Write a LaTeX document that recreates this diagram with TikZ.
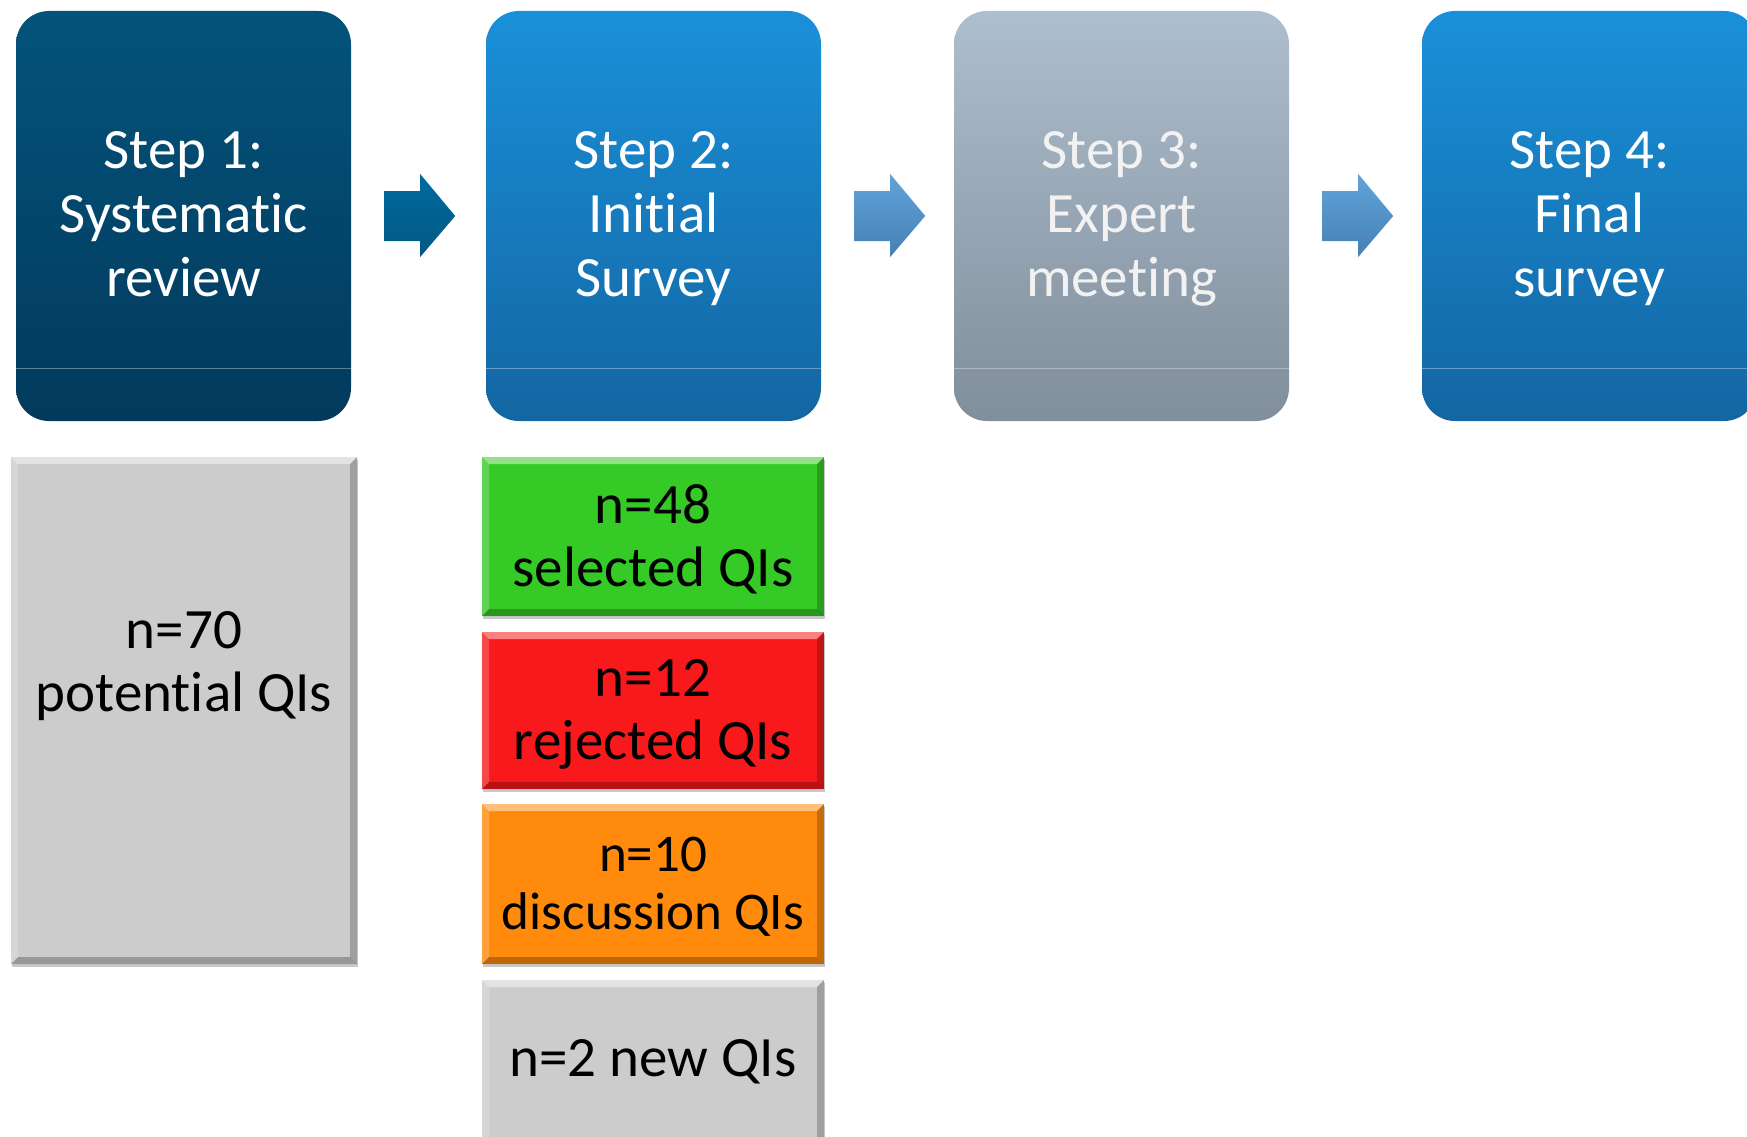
\documentclass[tikz,border=0pt]{standalone}
\usepackage{fontspec}
\setmainfont{Carlito}[Ligatures={NoCommon,NoContextual}]
\usetikzlibrary{shadows,calc}
\definecolor{sAtop}{HTML}{04537B}
\definecolor{sAbot}{HTML}{023A5C}
\definecolor{sBtop}{HTML}{1A90DA}
\definecolor{sBbot}{HTML}{1366A2}
\definecolor{sCtop}{HTML}{ADBECE}
\definecolor{sCbot}{HTML}{818E9B}
\definecolor{aAtop}{HTML}{006B9E}
\definecolor{aAbot}{HTML}{035882}
\definecolor{aBtop}{HTML}{60A4DA}
\definecolor{aBbot}{HTML}{4680B5}
\definecolor{qgray}{HTML}{CCCCCC}
\definecolor{qgreen}{HTML}{36CA26}
\definecolor{qred}{HTML}{F7191B}
\definecolor{qorange}{HTML}{FF8A0B}
\newcommand\tstrut[1]{\rule{0pt}{#1}}
\newcommand\bstrut[1]{\rule[-#1]{0pt}{#1}}
\begin{document}
\begin{tikzpicture}[x=1pt,y=-1pt,
  stepbox/.style={rounded corners=33pt, minimum width=335pt, minimum height=410pt,
    inner sep=0pt, text=white, align=center, font=\fontsize{57}{64}\selectfont},
  divider/.style={draw=white, draw opacity=0.35, line width=1pt},
  blockarrow/.style={draw=none},
  qbox/.style={fill=#1, inner sep=0pt,
    drop shadow={shadow xshift=1pt, shadow yshift=-3pt, opacity=0.3, fill=black!70},
    path picture={
      \coordinate (pnw) at (path picture bounding box.north west);
      \coordinate (pne) at (path picture bounding box.north east);
      \coordinate (psw) at (path picture bounding box.south west);
      \coordinate (pse) at (path picture bounding box.south east);
      \fill[white,opacity=.45] (pnw) -- (pne) -- ([xshift=-7pt,yshift=-7pt]pne) -- ([xshift=7pt,yshift=-7pt]pnw) -- cycle;
      \fill[white,opacity=.2] (pnw) -- ([xshift=7pt,yshift=-7pt]pnw) -- ([xshift=7pt,yshift=7pt]psw) -- (psw) -- cycle;
      \fill[black,opacity=.22] (pne) -- (pse) -- ([xshift=-7pt,yshift=7pt]pse) -- ([xshift=-7pt,yshift=-7pt]pne) -- cycle;
      \fill[black,opacity=.25] (psw) -- (pse) -- ([xshift=-7pt,yshift=7pt]pse) -- ([xshift=7pt,yshift=7pt]psw) -- cycle;
    }},
  qtext/.style={align=center, inner sep=0pt, text=black, font=\fontsize{57}{63}\selectfont}
]
\useasboundingbox (0,0) rectangle (1747,1137);

% step boxes
\node[stepbox, top color=sAtop, bottom color=sAbot] (s1) at (183.5,216) {\tstrut{47pt}Step 1:\\Systematic\\review\bstrut{15pt}};
\node[stepbox, top color=sBtop, bottom color=sBbot] (s2) at (653.5,216) {\tstrut{47pt}Step 2:\\Initial\\Survey\bstrut{15pt}};
\node[stepbox, top color=sCtop, bottom color=sCbot, text=white!95!black] (s3) at (1121.5,216) {\tstrut{47pt}Step 3:\\Expert\\meeting\bstrut{15pt}};
\node[stepbox, top color=sBtop, bottom color=sBbot] (s4) at (1589.5,216) {\tstrut{47pt}Step 4:\\Final\\survey\bstrut{15pt}};

\foreach \s in {s1,s2,s3,s4}{
  \draw[divider] ($(\s.west)+(0,152)$) -- ($(\s.east)+(0,152)$);
}

% block arrows
\foreach \a/\b/\t/\c in {s1/s2/aAtop/aAbot, s2/s3/aBtop/aBbot, s3/s4/aBtop/aBbot}{
  \coordinate (ab) at ($(\a.east)+(33,0)$);
  \shade[blockarrow, top color=\t, bottom color=\c]
    ($(ab)+(0,-25)$) -- ++(36,0) -- ++(0,-17) -- ++(35,42) -- ++(-35,41) -- ++(0,-16) -- ++(-36,0) -- cycle;
}

% QI boxes
\node[qbox=qgray, minimum width=346pt, minimum height=507pt] (g1) at (184,710.5) {};
\node[qtext] (g1t) at (184,667) {\tstrut{40pt}n=70\\potential QIs\bstrut{15pt}};

\node[qbox=qgreen, minimum width=342pt, minimum height=159pt] (b1) at (653,536.5) {};
\node[qtext] (b1t) at (653,542) {\tstrut{40pt}n=48\\selected QIs\bstrut{15pt}};

\node[qbox=qred, minimum width=342pt, minimum height=157pt] (b2) at (653,710.5) {};
\node[qtext] (b2t) at (653,715) {\tstrut{40pt}n=12\\rejected QIs\bstrut{15pt}};

\node[qbox=qorange, minimum width=342pt, minimum height=160pt] (b3) at (653,884) {};
\node[qtext, font=\fontsize{53}{58}\selectfont] (b3t) at (653,889) {\tstrut{37pt}n=10\\discussion QIs\bstrut{14pt}};

\node[qbox=qgray, minimum width=342pt, minimum height=170pt] (b4) at (653,1065) {};
\node[qtext] (b4t) at (653,1064) {\tstrut{40pt}n=2 new QIs\bstrut{15pt}};
\end{tikzpicture}
\end{document}
